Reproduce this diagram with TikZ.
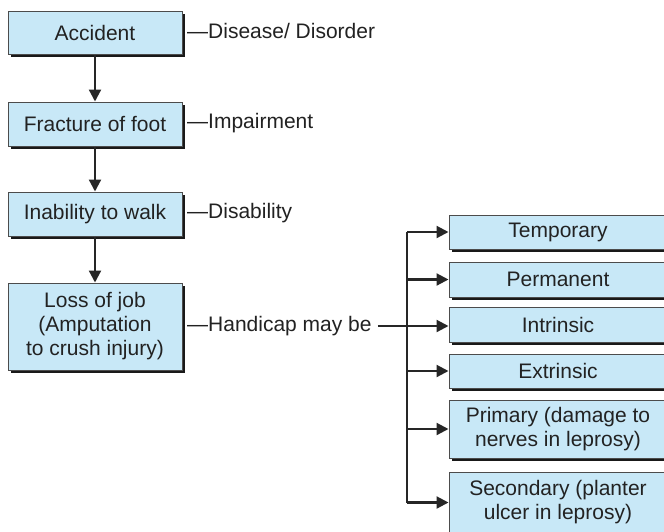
\documentclass[tikz,border=0pt]{standalone}
\usepackage{fontspec}
\setmainfont{Liberation Sans}
\usetikzlibrary{arrows.meta,shadows,calc}
\definecolor{boxblue}{HTML}{C8E8F7}
\definecolor{txt}{HTML}{222222}
\begin{document}
\begin{tikzpicture}[x=1pt,y=-1pt,
  font=\fontsize{21}{24}\selectfont, text=txt,
  flowbox/.style={draw=black!70, line width=1pt, fill=boxblue, align=center,
    inner sep=0pt, drop shadow={shadow xshift=3pt, shadow yshift=-3pt, fill=black!90, opacity=1}},
  leftbox/.style={flowbox, minimum width=174pt},
  rightbox/.style={flowbox, minimum width=218pt},
  lbl/.style={anchor=west, inner sep=0pt, text height=15pt, text depth=4pt},
  arr/.style={line width=2.2pt, draw=black!85, -{Triangle[width=12pt,length=12pt]}},
  ln/.style={line width=2.2pt, draw=black!85}]
\clip (0,0) rectangle (664,531);
\useasboundingbox (0,0) rectangle (664,531);
\fill[white] (0,0) rectangle (664,531);
% left column
\node[leftbox, minimum height=43pt] (acc) at (95,32.5) {Accident};
\node[leftbox, minimum height=44pt] (frac) at (95,124) {Fracture of foot};
\node[leftbox, minimum height=44pt] (inab) at (95,214) {Inability to walk};
\node[leftbox, minimum height=87pt] (loss) at (95,326.5) {Loss of job\\(Amputation\\to crush injury)};
% labels
\node[lbl] (l1) at (187,33) {—Disease/ Disorder};
\node[lbl] (l2) at (187,123) {—Impairment};
\node[lbl] (l3) at (187,213) {—Disability};
\node[lbl] (l4) at (187,326) {—Handicap may be};
% right column
\node[rightbox, minimum height=34pt] (temp) at (558,232) {Temporary};
\node[rightbox, minimum height=35pt] (perm) at (558,279.5) {Permanent};
\node[rightbox, minimum height=35pt] (intr) at (558,324.5) {Intrinsic};
\node[rightbox, minimum height=34pt] (extr) at (558,371) {Extrinsic};
\node[rightbox, minimum height=58pt] (prim) at (558,429) {Primary (damage to\\nerves in leprosy)};
\node[rightbox, minimum height=61pt] (seco) at (558,502.5) {Secondary (planter\\ulcer in leprosy)};
% vertical arrows
\draw[arr] (acc) -- (frac);
\draw[arr] (frac) -- (inab);
\draw[arr] (inab) -- (loss);
% branch
\coordinate (trunk) at (407,0);
\draw[ln] (temp.west -| trunk) -- (seco.west -| trunk);
\draw[arr] ($(l4.east)+(6,0)$) -- (intr.west |- l4.east);
\foreach \b in {temp,perm,extr,prim,seco}
  \draw[arr] (\b.west -| trunk) -- (\b.west);
\end{tikzpicture}
\end{document}
